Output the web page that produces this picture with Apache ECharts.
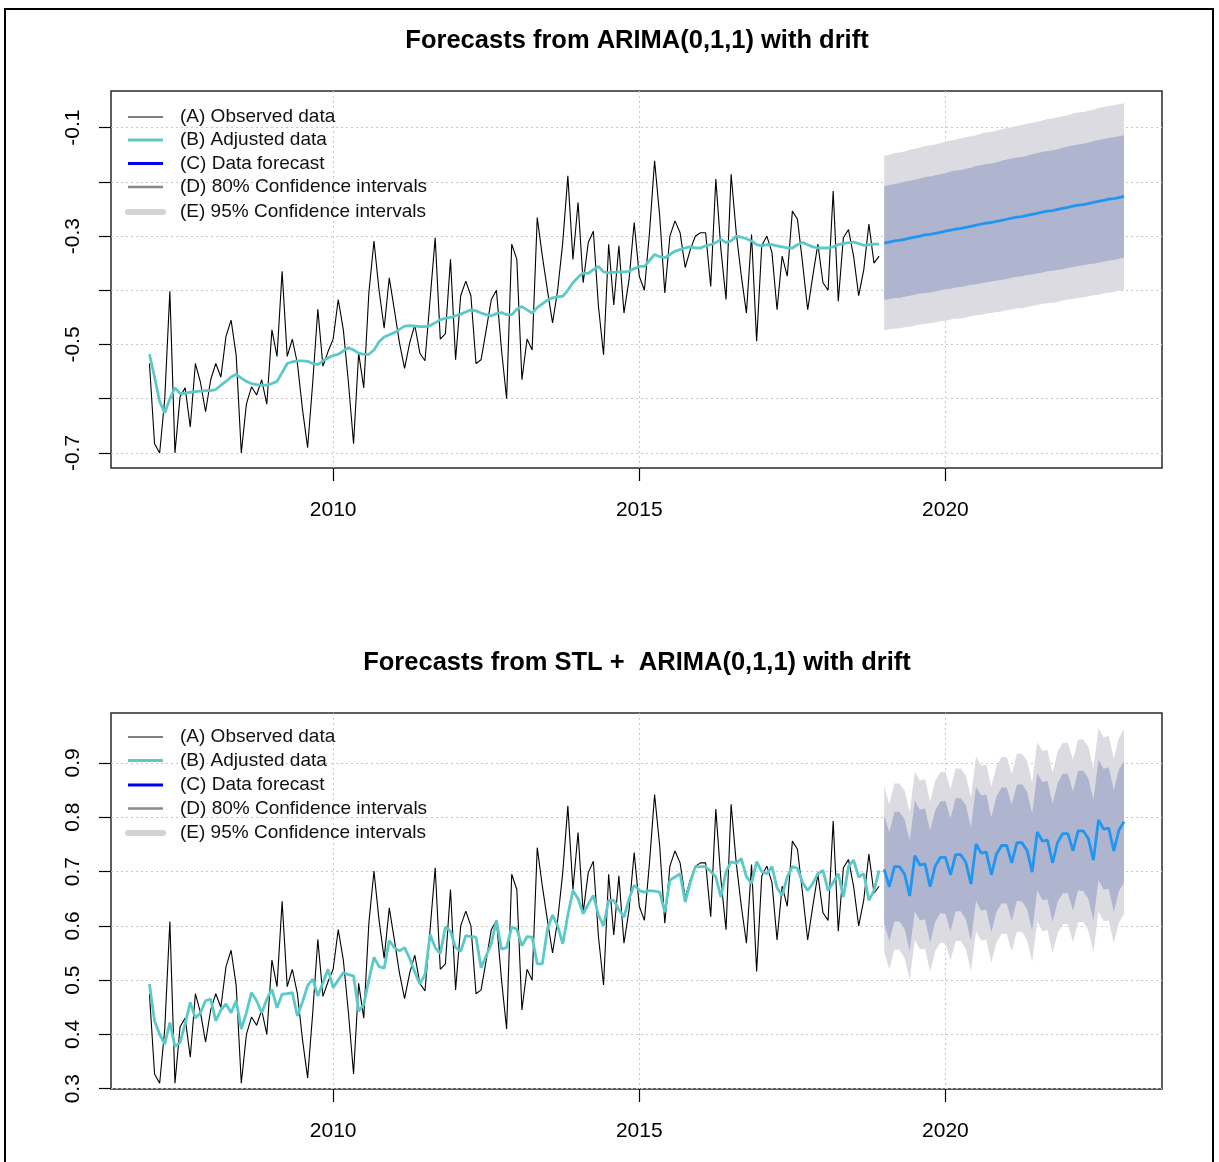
<!DOCTYPE html>
<html><head><meta charset="utf-8">
<script src="https://cdn.jsdelivr.net/npm/echarts@6/dist/echarts.min.js"></script>
<style>html,body{margin:0;padding:0;background:#fff;}#c{width:1219px;height:1162px;}</style>
</head><body><div id="c"></div>
<script>
// ---------------- data ----------------
const startYear = 2007;          // first observation (Jan 2007), monthly
const freq = 12;
const forecastStart = 2019;      // first forecast month (Jan 2019)
const xTickValues = [2010, 2015, 2020];
const yTicksTop = [-0.7, -0.6, -0.5, -0.4, -0.3, -0.2, -0.1];
const yLabelsTop = [-0.7, -0.5, -0.3, -0.1];
const yTicksBot = [0.3, 0.4, 0.5, 0.6, 0.7, 0.8, 0.9];
const yLabelsBot = [0.3, 0.4, 0.5, 0.6, 0.7, 0.8, 0.9];
const titleTop = 'Forecasts from ARIMA(0,1,1) with drift';
const titleBot = 'Forecasts from STL +  ARIMA(0,1,1) with drift';
const legendLabels = ['(A) Observed data', '(B) Adjusted data', '(C) Data forecast',
  '(D) 80% Confidence intervals', '(E) 95% Confidence intervals'];

const observedTop = [
-0.535,-0.683,-0.700,-0.600,-0.402,-0.700,-0.596,-0.580,-0.652,-0.535,-0.570,-0.624,
-0.565,-0.535,-0.560,-0.485,-0.455,-0.520,-0.700,-0.610,-0.578,-0.593,-0.565,-0.610,
-0.473,-0.522,-0.365,-0.522,-0.490,-0.535,-0.620,-0.690,-0.570,-0.435,-0.540,-0.513,
-0.490,-0.417,-0.473,-0.570,-0.683,-0.516,-0.580,-0.405,-0.309,-0.400,-0.470,-0.377,
-0.436,-0.497,-0.544,-0.497,-0.464,-0.516,-0.530,-0.417,-0.303,-0.490,-0.480,-0.343,
-0.528,-0.410,-0.383,-0.410,-0.535,-0.528,-0.473,-0.417,-0.400,-0.510,-0.600,-0.315,
-0.343,-0.565,-0.490,-0.510,-0.266,-0.337,-0.400,-0.460,-0.400,-0.312,-0.189,-0.343,
-0.238,-0.386,-0.312,-0.291,-0.430,-0.519,-0.315,-0.427,-0.318,-0.442,-0.380,-0.275,
-0.374,-0.400,-0.294,-0.161,-0.263,-0.405,-0.300,-0.272,-0.294,-0.358,-0.325,-0.300,
-0.294,-0.294,-0.393,-0.195,-0.325,-0.417,-0.186,-0.294,-0.374,-0.442,-0.297,-0.494,
-0.318,-0.300,-0.330,-0.436,-0.337,-0.374,-0.254,-0.269,-0.350,-0.436,-0.374,-0.315,
-0.386,-0.400,-0.217,-0.420,-0.303,-0.288,-0.337,-0.410,-0.362,-0.278,-0.350,-0.337];

const adjustedTop = [
-0.518,-0.560,-0.605,-0.626,-0.600,-0.580,-0.590,-0.590,-0.588,-0.587,-0.586,-0.585,
-0.585,-0.583,-0.575,-0.568,-0.560,-0.555,-0.562,-0.568,-0.572,-0.574,-0.575,-0.575,
-0.572,-0.568,-0.552,-0.535,-0.532,-0.530,-0.530,-0.531,-0.535,-0.537,-0.530,-0.525,
-0.520,-0.518,-0.512,-0.506,-0.510,-0.516,-0.518,-0.518,-0.510,-0.495,-0.486,-0.482,
-0.478,-0.472,-0.466,-0.465,-0.466,-0.467,-0.467,-0.465,-0.460,-0.454,-0.452,-0.450,
-0.447,-0.444,-0.440,-0.436,-0.438,-0.442,-0.445,-0.447,-0.443,-0.441,-0.445,-0.445,
-0.435,-0.430,-0.436,-0.442,-0.432,-0.425,-0.418,-0.414,-0.412,-0.411,-0.400,-0.386,
-0.376,-0.368,-0.369,-0.362,-0.356,-0.366,-0.368,-0.367,-0.366,-0.366,-0.365,-0.360,
-0.356,-0.356,-0.345,-0.334,-0.338,-0.340,-0.334,-0.328,-0.325,-0.322,-0.320,-0.322,
-0.322,-0.318,-0.316,-0.312,-0.306,-0.312,-0.309,-0.300,-0.302,-0.305,-0.309,-0.316,
-0.318,-0.316,-0.316,-0.318,-0.320,-0.322,-0.322,-0.316,-0.312,-0.316,-0.320,-0.322,
-0.322,-0.322,-0.320,-0.316,-0.314,-0.312,-0.311,-0.314,-0.317,-0.316,-0.315,-0.315];

const forecastTop = [
-0.313,-0.311,-0.309,-0.308,-0.306,-0.304,-0.302,-0.300,-0.298,-0.297,-0.295,-0.293,
-0.291,-0.289,-0.287,-0.286,-0.284,-0.282,-0.280,-0.278,-0.276,-0.275,-0.273,-0.271,
-0.269,-0.267,-0.265,-0.264,-0.262,-0.260,-0.258,-0.256,-0.254,-0.253,-0.251,-0.249,
-0.247,-0.245,-0.243,-0.242,-0.240,-0.238,-0.236,-0.234,-0.232,-0.231,-0.229,-0.227];
const hw80Top = [
0.105,0.105,0.105,0.106,0.106,0.106,0.106,0.106,0.107,0.107,0.107,0.107,
0.107,0.108,0.108,0.108,0.108,0.108,0.109,0.109,0.109,0.109,0.109,0.110,
0.110,0.110,0.110,0.110,0.110,0.111,0.111,0.111,0.111,0.111,0.111,0.112,
0.112,0.112,0.112,0.112,0.112,0.113,0.113,0.113,0.113,0.113,0.113,0.113];
const hw95Top = [
0.161,0.161,0.162,0.162,0.162,0.163,0.163,0.163,0.164,0.164,0.164,0.164,
0.165,0.165,0.165,0.166,0.166,0.166,0.166,0.167,0.167,0.167,0.167,0.168,
0.168,0.168,0.168,0.169,0.169,0.169,0.169,0.169,0.170,0.170,0.170,0.170,
0.170,0.171,0.171,0.171,0.171,0.171,0.172,0.172,0.172,0.172,0.172,0.172];

const observedBot = [
0.475,0.327,0.310,0.410,0.608,0.310,0.414,0.430,0.358,0.475,0.440,0.386,
0.445,0.475,0.450,0.525,0.555,0.490,0.310,0.400,0.432,0.417,0.445,0.400,
0.537,0.488,0.645,0.488,0.520,0.475,0.390,0.320,0.440,0.575,0.470,0.497,
0.520,0.593,0.537,0.440,0.327,0.494,0.430,0.605,0.701,0.610,0.540,0.633,
0.574,0.513,0.466,0.513,0.546,0.494,0.480,0.593,0.707,0.520,0.530,0.667,
0.482,0.600,0.627,0.600,0.475,0.482,0.537,0.593,0.610,0.500,0.410,0.695,
0.667,0.445,0.520,0.500,0.744,0.673,0.610,0.550,0.610,0.698,0.821,0.667,
0.772,0.624,0.698,0.719,0.580,0.491,0.695,0.583,0.692,0.568,0.630,0.735,
0.636,0.610,0.716,0.842,0.747,0.605,0.710,0.738,0.716,0.652,0.685,0.710,
0.716,0.716,0.617,0.815,0.685,0.593,0.824,0.716,0.636,0.568,0.713,0.516,
0.692,0.710,0.680,0.574,0.673,0.636,0.756,0.741,0.660,0.574,0.636,0.695,
0.624,0.610,0.793,0.590,0.707,0.722,0.673,0.600,0.648,0.732,0.660,0.673];

const adjustedBot = [
0.493,0.425,0.400,0.382,0.422,0.378,0.385,0.420,0.459,0.430,0.440,0.462,
0.465,0.425,0.445,0.456,0.440,0.462,0.410,0.440,0.477,0.462,0.440,0.465,
0.483,0.449,0.474,0.475,0.477,0.434,0.460,0.490,0.502,0.471,0.495,0.520,
0.486,0.500,0.514,0.510,0.508,0.443,0.455,0.500,0.542,0.525,0.522,0.573,
0.560,0.554,0.560,0.540,0.515,0.493,0.510,0.584,0.560,0.549,0.598,0.590,
0.560,0.553,0.582,0.580,0.579,0.523,0.545,0.567,0.610,0.557,0.560,0.598,
0.594,0.563,0.580,0.579,0.530,0.530,0.594,0.620,0.600,0.567,0.620,0.665,
0.650,0.622,0.640,0.656,0.620,0.600,0.647,0.647,0.630,0.616,0.650,0.675,
0.665,0.662,0.665,0.664,0.662,0.625,0.684,0.690,0.696,0.644,0.680,0.709,
0.709,0.709,0.700,0.690,0.653,0.700,0.718,0.715,0.724,0.690,0.678,0.718,
0.700,0.696,0.709,0.670,0.656,0.690,0.709,0.706,0.680,0.665,0.678,0.696,
0.702,0.665,0.680,0.696,0.653,0.709,0.721,0.690,0.696,0.647,0.665,0.702];

const forecastBot = [
0.704,0.672,0.709,0.709,0.695,0.655,0.729,0.712,0.714,0.672,0.710,0.726,
0.726,0.694,0.731,0.731,0.717,0.677,0.751,0.734,0.736,0.694,0.732,0.748,
0.748,0.716,0.753,0.753,0.739,0.699,0.773,0.756,0.758,0.716,0.754,0.770,
0.770,0.738,0.775,0.775,0.761,0.721,0.795,0.778,0.780,0.738,0.776,0.792];
const hw80Bot = [
0.100,0.100,0.101,0.101,0.101,0.102,0.102,0.102,0.102,0.103,0.103,0.103,
0.104,0.104,0.104,0.104,0.105,0.105,0.105,0.106,0.106,0.106,0.106,0.107,
0.107,0.107,0.107,0.108,0.108,0.108,0.108,0.109,0.109,0.109,0.109,0.110,
0.110,0.110,0.110,0.111,0.111,0.111,0.111,0.111,0.112,0.112,0.112,0.112];
const hw95Bot = [
0.152,0.152,0.153,0.153,0.154,0.154,0.155,0.155,0.156,0.156,0.157,0.157,
0.158,0.158,0.159,0.159,0.160,0.160,0.161,0.161,0.161,0.162,0.162,0.163,
0.163,0.163,0.164,0.164,0.165,0.165,0.165,0.166,0.166,0.166,0.167,0.167,
0.167,0.168,0.168,0.168,0.169,0.169,0.169,0.169,0.170,0.170,0.170,0.170];

// ---------------- styles ----------------
const FONT = '"Liberation Sans", Arial, sans-serif';
const COL = {
  obs: '#000000', adj: '#5CC9C9', fc: '#2196F0',
  band80: '#B0B5CF', band95: '#DBDBE1', grid: '#C8C8C8', box: '#2a2a2a'
};
const legendStyle = [
  {color: '#000000', width: 1, cap: 'butt'},
  {color: '#5CC9C9', width: 3, cap: 'butt'},
  {color: '#0000F0', width: 3, cap: 'butt'},
  {color: '#8a8a8a', width: 2.5, cap: 'butt'},
  {color: '#D3D3D3', width: 6, cap: 'round'}
];

const panels = [
  {obs: observedTop, adj: adjustedTop, fc: forecastTop, hw80: hw80Top, hw95: hw95Top,
   yMin: -0.7277, yMax: -0.0325, yTicks: yTicksTop, yLabels: yLabelsTop,
   grid: {left: 111, top: 91, width: 1051, height: 377}, title: titleTop, titleY: 28,
   legendY: [117, 140, 163.5, 187, 212]},
  {obs: observedBot, adj: adjustedBot, fc: forecastBot, hw80: hw80Bot, hw95: hw95Bot,
   yMin: 0.2995, yMax: 0.992, yTicks: yTicksBot, yLabels: yLabelsBot,
   grid: {left: 111, top: 713, width: 1051, height: 376}, title: titleBot, titleY: 650,
   legendY: [737, 760.5, 785, 808.5, 833]}
];

const xMin = 2006.372, xMax = 2023.537;

function times(n, t0) { const a = []; for (let i = 0; i < n; i++) a.push(t0 + i / freq); return a; }

const grids = [], xAxes = [], yAxes = [], series = [], titles = [], graphics = [];

panels.forEach((p, k) => {
  grids.push(Object.assign({show: true, borderColor: COL.box, borderWidth: 1.5,
    backgroundColor: 'transparent', containLabel: false}, p.grid));
  xAxes.push({
    gridIndex: k, type: 'value', min: xMin, max: xMax,
    axisLine: {show: false, onZero: false},
    axisTick: {show: true, customValues: xTickValues, length: 13, lineStyle: {color: '#000', width: 1.2}},
    axisLabel: {customValues: xTickValues, fontSize: 21, color: '#000', margin: 32, fontFamily: FONT,
      formatter: v => String(Math.round(v))},
    splitLine: {show: true, lineStyle: {color: COL.grid, width: 1, type: [2, 3]}}
  });
  yAxes.push({
    gridIndex: k, type: 'value', min: p.yMin, max: p.yMax,
    axisLine: {show: false, onZero: false},
    axisTick: {show: true, customValues: p.yTicks, length: 12, lineStyle: {color: '#000', width: 1.2}},
    axisLabel: {customValues: p.yLabels, rotate: 90, fontSize: 21, color: '#000', margin: 27,
      fontFamily: FONT, formatter: v => v.toFixed(1)},
    splitLine: {show: true, lineStyle: {color: COL.grid, width: 1, type: [2, 3]}}
  });

  const tObs = times(p.obs.length, startYear);
  const tFc = times(p.fc.length, forecastStart);

  function band(hw, color, name) {
    const lo = p.fc.map((v, j) => v - hw[j]);
    const hi = p.fc.map((v, j) => v + hw[j]);
    return {
      type: 'custom', name: name, xAxisIndex: k, yAxisIndex: k, z: 1,
      data: tFc.map((t, j) => [t, lo[j], hi[j]]),
      encode: {x: 0, y: [1, 2]},
      renderItem: function (params, api) {
        if (params.dataIndex !== 0) return null;
        const up = [], dn = [];
        for (let j = 0; j < tFc.length; j++) {
          up.push(api.coord([tFc[j], hi[j]]));
          dn.push(api.coord([tFc[j], lo[j]]));
        }
        return {type: 'polygon', shape: {points: up.concat(dn.reverse())},
          style: {fill: color, stroke: null}};
      }
    };
  }
  series.push(band(p.hw95, COL.band95, 'ci95_' + k));
  series.push(band(p.hw80, COL.band80, 'ci80_' + k));
  series.push({type: 'line', name: 'observed_' + k, xAxisIndex: k, yAxisIndex: k, z: 3,
    data: tObs.map((t, i) => [t, p.obs[i]]), showSymbol: false, symbol: 'none',
    lineStyle: {color: COL.obs, width: 1.1}});
  series.push({type: 'line', name: 'adjusted_' + k, xAxisIndex: k, yAxisIndex: k, z: 4,
    data: tObs.map((t, i) => [t, p.adj[i]]), showSymbol: false, symbol: 'none',
    lineStyle: {color: COL.adj, width: 2.8}});
  series.push({type: 'line', name: 'forecast_' + k, xAxisIndex: k, yAxisIndex: k, z: 5,
    data: tFc.map((t, j) => [t, p.fc[j]]), showSymbol: false, symbol: 'none',
    lineStyle: {color: COL.fc, width: 2.8}});

  titles.push({text: p.title, left: 637, top: p.titleY, textAlign: 'center', padding: 0,
    textStyle: {fontSize: 25.5, fontWeight: 'bold', color: '#000', fontFamily: FONT}});

  legendLabels.forEach((lab, r) => {
    const s = legendStyle[r];
    graphics.push({type: 'line', z: 100,
      shape: {x1: 128, y1: p.legendY[r], x2: 163, y2: p.legendY[r]},
      style: {stroke: s.color, lineWidth: s.width, lineCap: s.cap}});
    graphics.push({type: 'text', z: 100, x: 180, y: p.legendY[r],
      style: {text: lab, fontSize: 19, fontFamily: FONT, fill: '#111', align: 'left', verticalAlign: 'middle'}});
  });
});

// outer figure frame
graphics.push({type: 'rect', z: 100, shape: {x: 5, y: 9, width: 1208, height: 1170},
  style: {fill: 'none', stroke: '#000', lineWidth: 2}});

const chart = echarts.init(document.getElementById('c'), null, {renderer: 'canvas'});
chart.setOption({
  animation: false,
  backgroundColor: '#fff',
  title: titles,
  grid: grids,
  xAxis: xAxes,
  yAxis: yAxes,
  series: series,
  graphic: graphics
});
</script></body></html>
